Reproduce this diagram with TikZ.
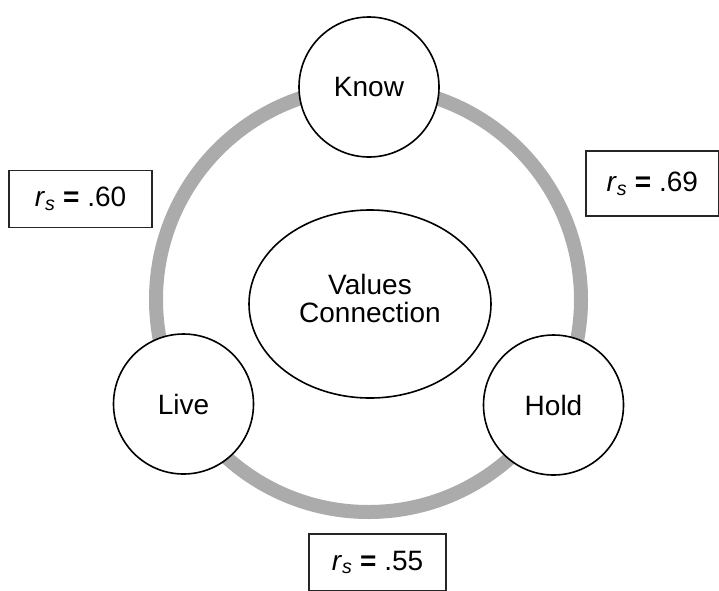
\documentclass[tikz,border=0pt]{standalone}
\usepackage{fontspec}
\setmainfont{Liberation Sans}
\usetikzlibrary{shapes.geometric}
\newcommand{\rsub}{\textit{r}\textsubscript{\textit{s}}}

\begin{document}
\begin{tikzpicture}[
    x=1pt, y=-1pt,
    font=\fontsize{28}{28}\selectfont,
    ring/.style={line width=14pt, draw=black!33},
    valnode/.style={circle, draw, line width=1.6pt, fill=white, minimum size=140pt, inner sep=0pt},
    core/.style={ellipse, draw, line width=1.6pt, fill=white, minimum width=242pt, minimum height=188pt, inner sep=0pt, align=center},
    rbox/.style={draw=black!85, line width=1.3pt, fill=white, inner sep=0pt}
  ]
    \clip (0,0) rectangle (719,590);
    \coordinate (ctr) at (368.5,299.5);
    \draw[ring] (ctr) circle[radius=212.5pt];

    \node[core] (values) at (370,304) {Values\\Connection\\[-17pt]\mbox{}};
    \node[valnode] (know) at (369,87) {Know};
    \node[valnode] (live) at (183.5,404) {Live};
    \node[valnode] (hold) at (553.5,405) {Hold};

    \node[rbox, minimum width=143pt, minimum height=56.5pt] (rsLive) at (80.5,199) {\rsub{} \textbf{=} .60\hspace{8pt}};
    \node[rbox, minimum width=132.5pt, minimum height=65pt] (rsHold) at (652.25,183.5) {\rsub{} \textbf{=} .69};
    \node[rbox, minimum width=137pt, minimum height=57pt] (rsBase) at (377.5,562.5) {\rsub{} \textbf{=} .55\hspace{6pt}};
  \end{tikzpicture}
\end{document}
